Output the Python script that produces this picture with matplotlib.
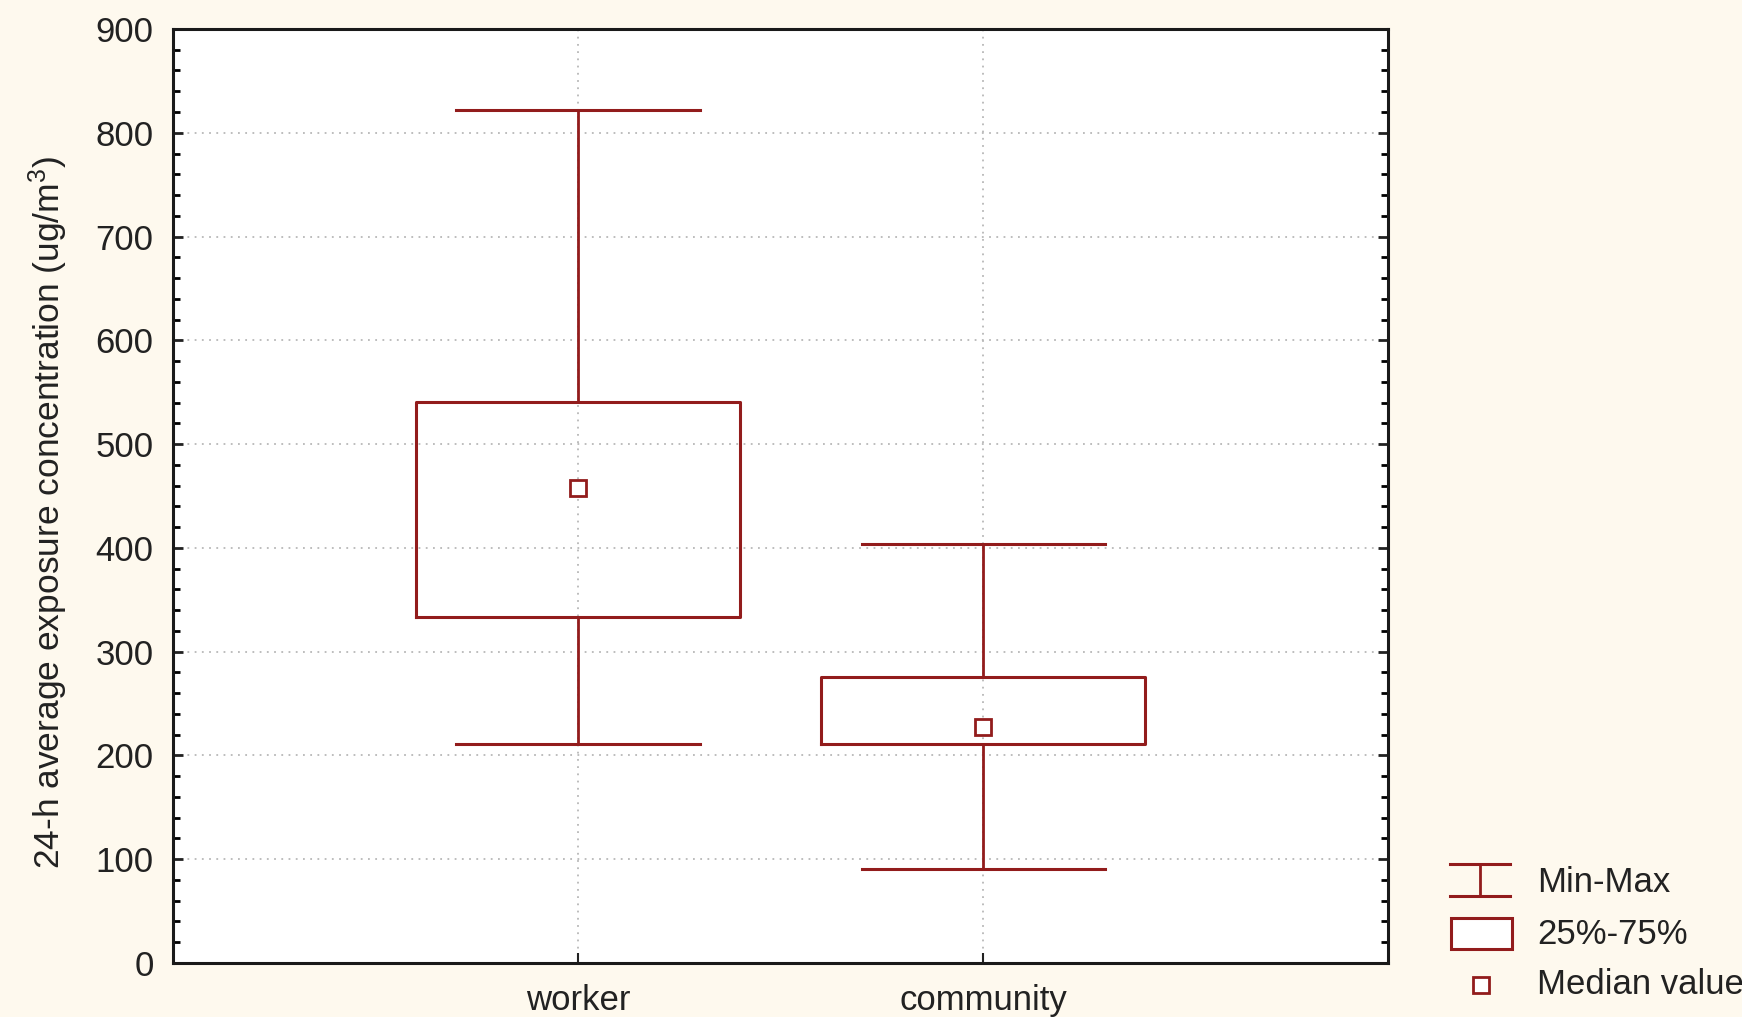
# box chart of 24-h exposure concentrations, worker vs community
import matplotlib
matplotlib.use('Agg')
import matplotlib.pyplot as plt
from matplotlib.lines import Line2D
from matplotlib.patches import Rectangle
from matplotlib.ticker import MultipleLocator

# data (ug/m3)
groups = ['worker', 'community']
min_vals = [211, 91]
q1_vals = [333, 211]
median_vals = [458, 227]
q3_vals = [541, 276]
max_vals = [822, 404]

red = '#921c1c'
bg = '#fef9ee'

plt.rcParams['font.family'] = ['Liberation Sans Narrow', 'Liberation Sans', 'DejaVu Sans']
plt.rcParams['mathtext.default'] = 'regular'

fig = plt.figure(figsize=(17.42, 10.17), dpi=100, facecolor=bg)
ax = fig.add_axes([0.0993, 0.0531, 0.6975, 0.9184])
ax.set_facecolor('white')

# build stats for bxp
stats = []
for i in range(len(groups)):
    stats.append({'label': groups[i], 'whislo': min_vals[i], 'q1': q1_vals[i],
                  'med': median_vals[i], 'q3': q3_vals[i], 'whishi': max_vals[i],
                  'mean': median_vals[i]})

ax.bxp(stats, positions=[1, 2], widths=0.8, capwidths=0.6, showfliers=False,
       showmeans=True,
       boxprops=dict(color=red, linewidth=2.2),
       whiskerprops=dict(color=red, linewidth=2.0),
       capprops=dict(color=red, linewidth=2.2),
       medianprops=dict(linewidth=0, alpha=0),
       meanprops=dict(marker='s', markersize=11, markerfacecolor='white',
                      markeredgecolor=red, markeredgewidth=2))

ax.set_xlim(0, 3)
ax.set_ylim(0, 900)
ax.set_xticks([1, 2])
ax.set_xticklabels(groups)
ax.yaxis.set_major_locator(MultipleLocator(100))
ax.yaxis.set_minor_locator(MultipleLocator(20))

# grid
ax.grid(True, which='major', linestyle=(0, (1, 3)), color='#b8b8b8', linewidth=1.3)
ax.set_axisbelow(True)

for sp in ax.spines.values():
    sp.set_linewidth(2.2)
    sp.set_color('#1a1a1a')

ax.tick_params(axis='y', which='major', direction='in', length=7, width=2,
               left=True, right=True, labelsize=25, pad=14, colors='#222222')
ax.tick_params(axis='y', which='minor', direction='in', length=5, width=2,
               left=True, right=True)
ax.tick_params(axis='x', which='major', direction='in', length=7, width=1.5,
               top=False, labelsize=25, pad=15, colors='#222222')

ax.set_ylabel('24-h average exposure concentration (ug/m$^3$)', fontsize=25.5,
              color='#222222')
ax.yaxis.set_label_coords(-0.085, 0.482)

# legend drawn by hand at the bottom right
W, H = 1742.0, 1017.0
def fx(px):
    return px / W
def fy(py):
    return 1 - py / H

# Min-Max symbol
fig.add_artist(Line2D([fx(1450), fx(1510)], [fy(864), fy(864)], color=red, lw=2.2))
fig.add_artist(Line2D([fx(1450), fx(1510)], [fy(896), fy(896)], color=red, lw=2.2))
fig.add_artist(Line2D([fx(1480), fx(1480)], [fy(864), fy(896)], color=red, lw=2.0))
# 25%-75% symbol
fig.add_artist(Rectangle((fx(1451), fy(949)), fx(1512) - fx(1451), fy(918) - fy(949),
                         transform=fig.transFigure, facecolor='white',
                         edgecolor=red, lw=2.2))
# Median symbol
fig.add_artist(Line2D([fx(1481)], [fy(985)], marker='s', markersize=11,
                      markerfacecolor='white', markeredgecolor=red,
                      markeredgewidth=2))

leg_labels = ['Min-Max', '25%-75%', 'Median value']
leg_y = [882, 934, 985]
for lab, yy in zip(leg_labels, leg_y):
    fig.text(fx(1537), fy(yy), lab, fontsize=25, va='center', ha='left',
             color='#222222')

fig.savefig('out.png', dpi=100, facecolor=bg)
